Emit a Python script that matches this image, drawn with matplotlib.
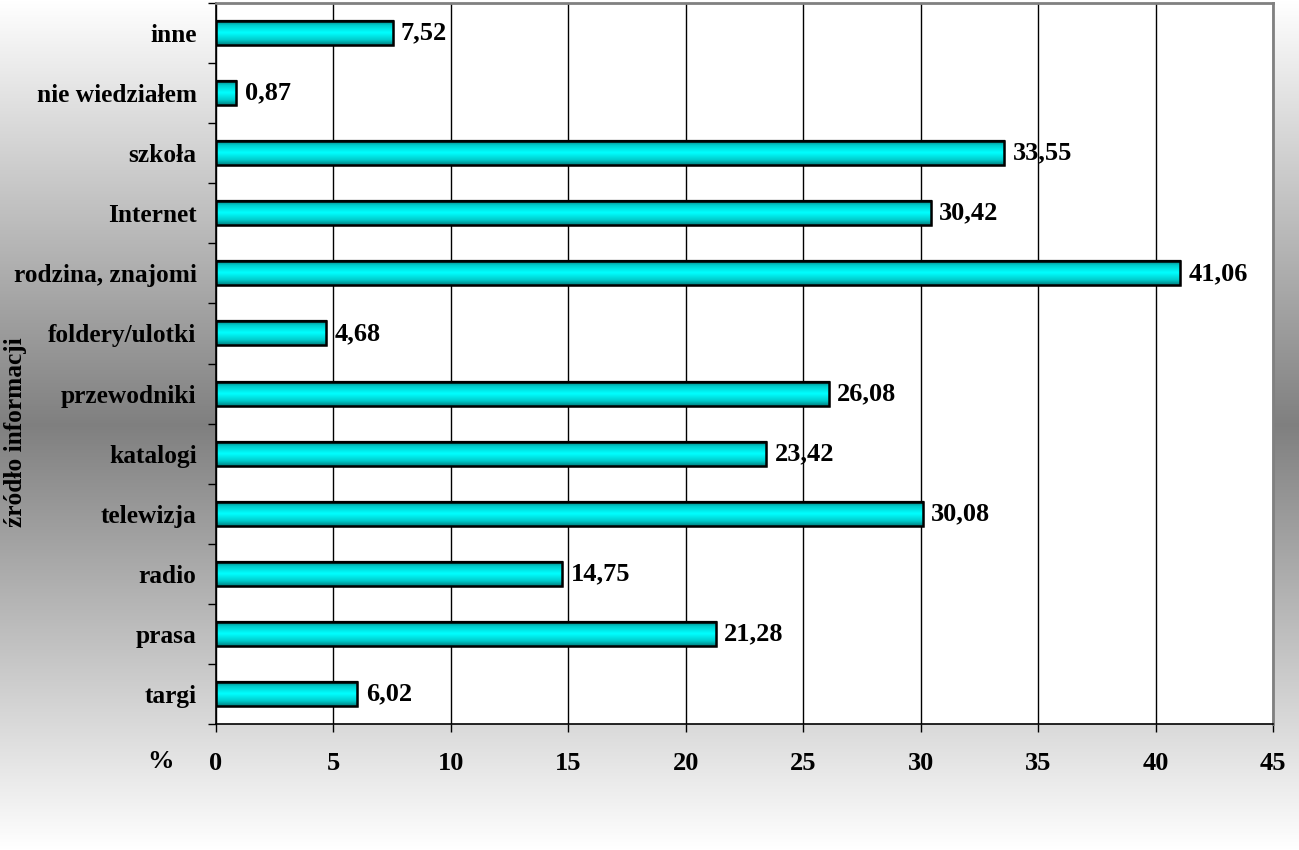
import numpy as np
import matplotlib
matplotlib.use("Agg")
import matplotlib.pyplot as plt
from matplotlib.colors import LinearSegmentedColormap

categories = ["targi", "prasa", "radio", "telewizja", "katalogi", "przewodniki",
              "foldery/ulotki", "rodzina, znajomi", "Internet", "szkoła",
              "nie wiedziałem", "inne"]
values = [6.02, 21.28, 14.75, 30.08, 23.42, 26.08, 4.68, 41.06, 30.42, 33.55, 0.87, 7.52]
value_labels = ["6,02", "21,28", "14,75", "30,08", "23,42", "26,08", "4,68",
                "41,06", "30,42", "33,55", "0,87", "7,52"]
xticks = [0, 5, 10, 15, 20, 25, 30, 35, 40, 45]
ylabel = "źródło informacji"
xunit = "%"

plt.rcParams['font.family'] = ['Liberation Serif', 'DejaVu Serif']
plt.rcParams['font.weight'] = 'bold'
FS = 19
FSC = 18.3

fig = plt.figure(figsize=(12.99, 8.5), dpi=100)

# background gradient (white -> gray -> white)
bg = fig.add_axes([0, 0, 1, 1], zorder=-10)
t = np.linspace(0, 1, 400)
g = 1 - 0.5 * (1 - np.abs(t - 0.5) / 0.5)
img = np.repeat(np.stack([g, g, g], axis=-1)[:, None, :], 2, axis=1)
bg.imshow(img, aspect='auto', extent=[0, 1, 0, 1], origin='upper')
bg.axis('off')

ax = fig.add_axes([216/1299, 1 - 724/850, (1273-216)/1299, (724-3)/850])
ax.set_facecolor('white')
y = np.arange(len(categories))
bars = ax.barh(y, values, height=0.4, color='#00ffff', edgecolor='black',
               linewidth=1.6, zorder=3)

cmap = LinearSegmentedColormap.from_list(
    'cyl', [(0.0, '#008080'), (0.2, '#00cccc'), (0.5, '#00ffff'),
            (0.8, '#00cccc'), (1.0, '#007070')])
grad = np.linspace(0, 1, 100)[:, None]
for b in bars:
    x0, y0, w, h = b.get_x(), b.get_y(), b.get_width(), b.get_height()
    im = ax.imshow(grad, cmap=cmap, aspect='auto', extent=[x0, x0 + w, y0 + h, y0],
                   origin='upper', zorder=3.5)
    im.set_clip_path(b)
    ax.add_patch(plt.Rectangle((x0, y0), w, h, fill=False, edgecolor='black',
                               linewidth=1.8, zorder=4))

for b, lab in zip(bars, value_labels):
    ax.annotate(lab, (b.get_width(), b.get_y() + b.get_height() / 2),
                xytext=(6, 0), textcoords='offset points', ha='left', va='center',
                fontsize=FS, fontweight='bold', zorder=5)

ax.set_xlim(0, 45)
ax.set_ylim(-0.5, len(categories) - 0.5)
ax.set_xticks(xticks)
ax.set_xticklabels([str(v) for v in xticks], fontsize=FS, fontweight='bold')
ax.set_yticks(y)
ax.set_yticklabels(categories, fontsize=FSC, fontweight='bold')
ax.set_yticks(np.arange(-0.5, len(categories), 1), minor=True)
ax.tick_params(axis='y', which='major', length=0, pad=14)
ax.tick_params(axis='y', which='minor', length=6, width=1, direction='out')
ax.tick_params(axis='x', which='major', length=6, width=1, direction='out', pad=14)
ax.xaxis.grid(True, color='black', linewidth=1, zorder=0)
ax.set_axisbelow(True)
for s in ['top', 'right']:
    ax.spines[s].set_color('#808080')
    ax.spines[s].set_linewidth(2)
for s in ['left', 'bottom']:
    ax.spines[s].set_color('black')
    ax.spines[s].set_linewidth(1.2)

fig.text(16/1299, 1 - 432/850, ylabel, rotation=90, ha='center', va='center',
         fontsize=FSC, fontweight='bold')
fig.text(160/1299, 1 - 762/850, xunit, ha='center', va='center',
         fontsize=FS, fontweight='bold')

fig.savefig('out.png', dpi=100)
